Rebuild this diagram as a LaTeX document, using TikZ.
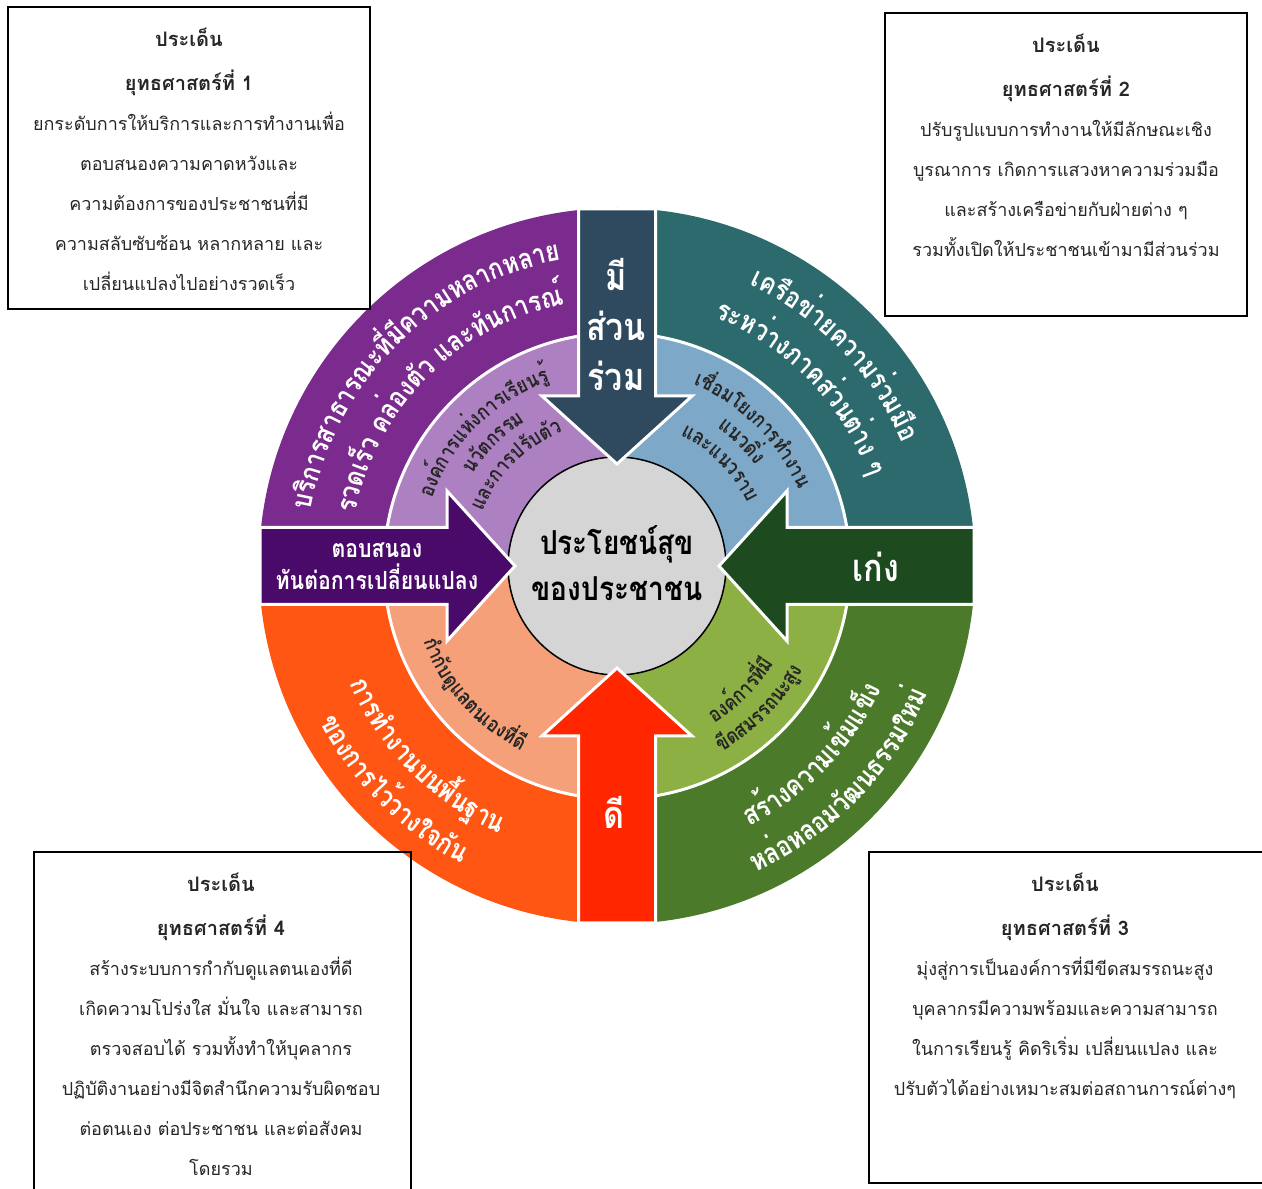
\documentclass[tikz,border=0pt]{standalone}
\usepackage{fontspec}
\newfontfamily\thai[Script=Thai]{Loma}
\newfontfamily\thaicond[Script=Thai,FakeStretch=0.85]{Loma}
\usetikzlibrary{math,decorations.text}

\definecolor{purpleout}{HTML}{7B2A8D}
\definecolor{purplein}{HTML}{AD80C1}
\definecolor{tealout}{HTML}{2D6A6E}
\definecolor{bluein}{HTML}{7EA8C8}
\definecolor{greenout}{HTML}{4B7A2A}
\definecolor{greenin}{HTML}{8CB043}
\definecolor{orangeout}{HTML}{FF5614}
\definecolor{salmonin}{HTML}{F6A07A}
\definecolor{arrowtop}{HTML}{2F4A5E}
\definecolor{arrowleft}{HTML}{4A0A6A}
\definecolor{arrowright}{HTML}{1D4A1F}
\definecolor{arrowbottom}{HTML}{FF2600}
\definecolor{hubgray}{HTML}{D5D5D5}

\newcommand\ringbig{\thaicond\bfseries\fontsize{28}{32}\selectfont}
\newcommand\ringsmall{\thaicond\bfseries\fontsize{21}{24}\selectfont}
\newcommand\heading{\bfseries\fontsize{20}{40}\selectfont}
\newcommand\arclabel[6]{%
  \path[decorate, decoration={text along path, text align=center, text color=#4, text={|#5|#6}}]
    (#2:#1) arc[start angle=#2, end angle=#3, radius=#1];}

\tikzset{
  stratbox/.style={draw=black, line width=2, inner sep=0, anchor=north west},
  boxtext/.style={font=\thai\fontsize{18}{40}\selectfont, align=center, text=black!85, inner sep=0, anchor=north},
  arrowtext/.style={font=\thaicond\bfseries\fontsize{38}{50}\selectfont, text=white, align=center, inner sep=0},
}

\begin{document}
\begin{tikzpicture}[x=1pt, y=1pt]
  \useasboundingbox (0,0) rectangle (1262,1189);
  \tikzmath{\R = 358; \Rm = 233; \Rc = 109; \w = 38.5; \h = 75; \hb = 170; \tp = 102; \se = 357;}

  \begin{scope}[shift={(617,623)}]
    \foreach \a/\co/\ci in {0/tealout/bluein, 90/purpleout/purplein, 180/orangeout/salmonin, 270/greenout/greenin} {
      \fill[\co] (0,0) -- (\a:\R) arc[start angle=\a, end angle=\a+90, radius=\R] -- cycle;
      \filldraw[fill=\ci, draw=white, line width=3] (0,0) -- (\a:\Rm) arc[start angle=\a, end angle=\a+90, radius=\Rm] -- cycle;
    }

    \arclabel{311}{190}{80}{white}{\ringbig}{บริการสาธารณะที่มีความหลากหลาย}
    \arclabel{267}{190}{80}{white}{\ringbig}{รวดเร็ว คล่องตัว และทันการณ์}
    \arclabel{311}{99}{-11}{white}{\ringbig}{เครือข่ายความร่วมมือ}
    \arclabel{267}{99}{-11}{white}{\ringbig}{ระหว่างภาคส่วนต่าง ๆ}
    \arclabel{292}{170}{280}{white}{\ringbig}{การทำงานบนพื้นฐาน}
    \arclabel{336}{170}{280}{white}{\ringbig}{ของการไว้วางใจกัน}
    \arclabel{292}{-99}{11}{white}{\ringbig}{สร้างความเข้มแข็ง}
    \arclabel{336}{-99}{11}{white}{\ringbig}{หล่อหลอมวัฒนธรรมใหม่}

    \arclabel{197}{190}{80}{black!85}{\ringsmall}{องค์การแห่งการเรียนรู้}
    \arclabel{171}{190}{80}{black!85}{\ringsmall}{นวัตกรรม}
    \arclabel{145}{190}{80}{black!85}{\ringsmall}{และการปรับตัว}
    \arclabel{197}{100}{-10}{black!85}{\ringsmall}{เชื่อมโยงการทำงาน}
    \arclabel{171}{100}{-10}{black!85}{\ringsmall}{แนวดิ่ง}
    \arclabel{145}{100}{-10}{black!85}{\ringsmall}{และแนวราบ}
    \arclabel{185}{-100}{10}{black!85}{\ringsmall}{องค์การที่มี}
    \arclabel{213}{-100}{10}{black!85}{\ringsmall}{ขีดสมรรถนะสูง}
    \arclabel{208}{167}{277}{black!85}{\ringsmall}{กำกับดูแลตนเองที่ดี}

    \filldraw[fill=hubgray, draw=black, line width=1.5] (0,0) circle[radius=\Rc];

    \foreach \ang/\col in {0/arrowleft, -90/arrowtop, 180/arrowright, 90/arrowbottom}
      \filldraw[fill=\col, draw=white, line width=3, line join=miter, rotate=\ang]
        (-\se,\w) -- (-\hb,\w) -- (-\hb,\h) -- (-\tp,0) -- (-\hb,-\h) -- (-\hb,-\w) -- (-\se,-\w) -- cycle;
  \end{scope}

  \node[font=\thaicond\bfseries\fontsize{33}{46}\selectfont, align=center, inner sep=0] (hub) at (617,626) {ประโยชน์สุข\\ของประชาชน};
  \node[arrowtext] (mi) at (616,864) {มี\\ส่วน\\ร่วม};
  \node[arrowtext] (keng) at (876,622) {เก่ง};
  \node[arrowtext] (dee) at (614,377) {ดี};
  \node[arrowtext, font=\thaicond\bfseries\fontsize{25}{32}\selectfont] (tob) at (377,623) {ตอบสนอง\\ทันต่อการเปลี่ยนแปลง};

  \node[stratbox, minimum width=362, minimum height=302] (box1) at (7,1183) {};
  \node[stratbox, minimum width=362, minimum height=303] (box2) at (884,1177) {};
  \node[stratbox, minimum width=420, minimum height=331] (box3) at (868,338) {};
  \node[stratbox, minimum width=377, minimum height=360] (box4) at (33,338) {};

  \node[boxtext] (s1) at ([yshift=-22]box1.north) {{\heading ประเด็น}\\[4pt]{\heading ยุทธศาสตร์ที่ 1}\\
    ยกระดับการให้บริการและการทำงานเพื่อ\\ตอบสนองความคาดหวังและ\\ความต้องการของประชาชนที่มี\\
    ความสลับซับซ้อน หลากหลาย และ\\เปลี่ยนแปลงไปอย่างรวดเร็ว};
  \node[boxtext] (s2) at ([yshift=-22]box2.north) {{\heading ประเด็น}\\[4pt]{\heading ยุทธศาสตร์ที่ 2}\\
    ปรับรูปแบบการทำงานให้มีลักษณะเชิง\\บูรณาการ เกิดการแสวงหาความร่วมมือ\\
    และสร้างเครือข่ายกับฝ่ายต่าง ๆ\\รวมทั้งเปิดให้ประชาชนเข้ามามีส่วนร่วม};
  \node[boxtext] (s3) at (1065,316) {{\heading ประเด็น}\\[4pt]{\heading ยุทธศาสตร์ที่ 3}\\
    มุ่งสู่การเป็นองค์การที่มีขีดสมรรถนะสูง\\บุคลากรมีความพร้อมและความสามารถ\\
    ในการเรียนรู้ คิดริเริ่ม เปลี่ยนแปลง และ\\ปรับตัวได้อย่างเหมาะสมต่อสถานการณ์ต่างๆ};
  \node[boxtext] (s4) at (221,316) {{\heading ประเด็น}\\[4pt]{\heading ยุทธศาสตร์ที่ 4}\\
    สร้างระบบการกำกับดูแลตนเองที่ดี\\เกิดความโปร่งใส มั่นใจ และสามารถ\\
    ตรวจสอบได้ รวมทั้งทำให้บุคลากร\\ปฏิบัติงานอย่างมีจิตสำนึกความรับผิดชอบ\\
    ต่อตนเอง ต่อประชาชน  และต่อสังคม\\โดยรวม};
\end{tikzpicture}
\end{document}
